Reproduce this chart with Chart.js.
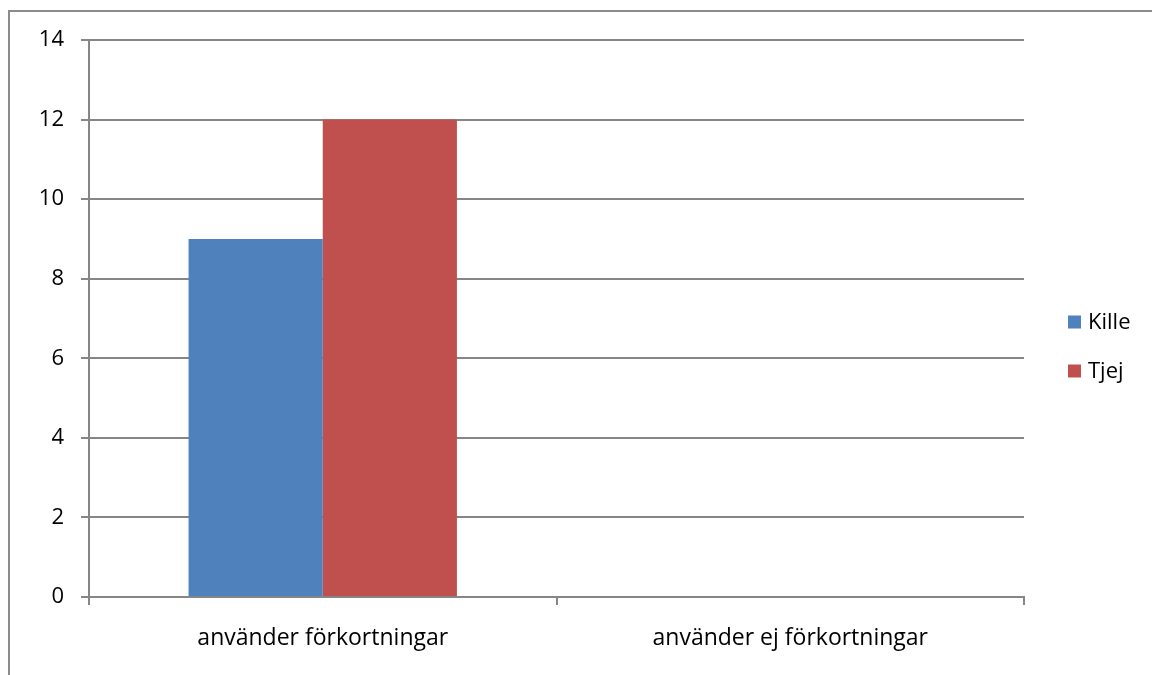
<!DOCTYPE html>
<html>
<head>
<meta charset="utf-8">
<script src="https://cdn.jsdelivr.net/npm/chart.js@4/dist/chart.umd.min.js"></script>
<style>
  html, body { margin: 0; padding: 0; background: #fff; }
  #wrap { position: relative; width: 1152px; height: 675px; overflow: hidden; }
  #frame { position: absolute; left: 8px; top: 10px; width: 1300px; height: 800px; border: 2px solid #8c8c8c; box-sizing: border-box; }
  #c { position: absolute; left: 0; top: 0; }
</style>
</head>
<body>
<div id="wrap">
  <div id="frame"></div>
  <canvas id="c" width="1152" height="675"></canvas>
</div>
<script>
const categories = ["använder förkortningar", "använder ej förkortningar"];
const seriesNames = ["Kille", "Tjej"];
const killeValues = [9, 0];
const tjejValues = [12, 0];
const seriesColors = ["#4f81bd", "#c0504d"];
const yTicks = [0, 2, 4, 6, 8, 10, 12, 14];

const FONT = "'Open Sans', sans-serif";
const GRID = "#868686";

const legendPlugin = {
  id: 'customLegend',
  afterDraw(chart) {
    const ctx = chart.ctx;
    ctx.save();
    ctx.font = "22px " + FONT;
    ctx.textBaseline = "middle";
    ctx.textAlign = "left";
    const x0 = 1068, y0 = 322, gap = 49;
    chart.data.datasets.forEach((ds, i) => {
      const y = y0 + i * gap;
      ctx.fillStyle = ds.backgroundColor;
      ctx.fillRect(x0, y - 6.5, 13, 13);
      ctx.fillStyle = "#000";
      ctx.fillText(ds.label, x0 + 20, y + 1);
    });
    ctx.restore();
  }
};

new Chart(document.getElementById('c'), {
  type: 'bar',
  data: {
    labels: categories,
    datasets: [
      { label: seriesNames[0], data: killeValues, backgroundColor: seriesColors[0], borderWidth: 0 },
      { label: seriesNames[1], data: tjejValues, backgroundColor: seriesColors[1], borderWidth: 0 }
    ]
  },
  options: {
    responsive: false,
    animation: false,
    devicePixelRatio: 1,
    layout: { padding: { top: 40, right: 128, left: 0, bottom: 0 } },
    plugins: { legend: { display: false }, tooltip: { enabled: false } },
    datasets: { bar: { categoryPercentage: 0.574, barPercentage: 1.0 } },
    scales: {
      x: {
        grid: { display: true, offset: true, drawOnChartArea: false, drawTicks: true, tickLength: 8, color: GRID, lineWidth: 2 },
        border: { display: true, color: GRID, width: 2 },
        ticks: { color: "#000", font: { family: FONT, size: 23 }, padding: 20, maxRotation: 0 },
        afterFit(scale) { scale.height = 78; }
      },
      y: {
        min: 0, max: 14,
        afterBuildTicks(scale) { scale.ticks = yTicks.map(v => ({ value: v })); },
        grid: { color: GRID, lineWidth: 2, tickLength: 8, drawTicks: true },
        border: { display: true, color: GRID, width: 2 },
        ticks: { color: "#000", font: { family: FONT, size: 22 }, padding: 17 },
        afterFit(scale) { scale.width = 89; }
      }
    }
  },
  plugins: [legendPlugin]
});
</script>
</body>
</html>
